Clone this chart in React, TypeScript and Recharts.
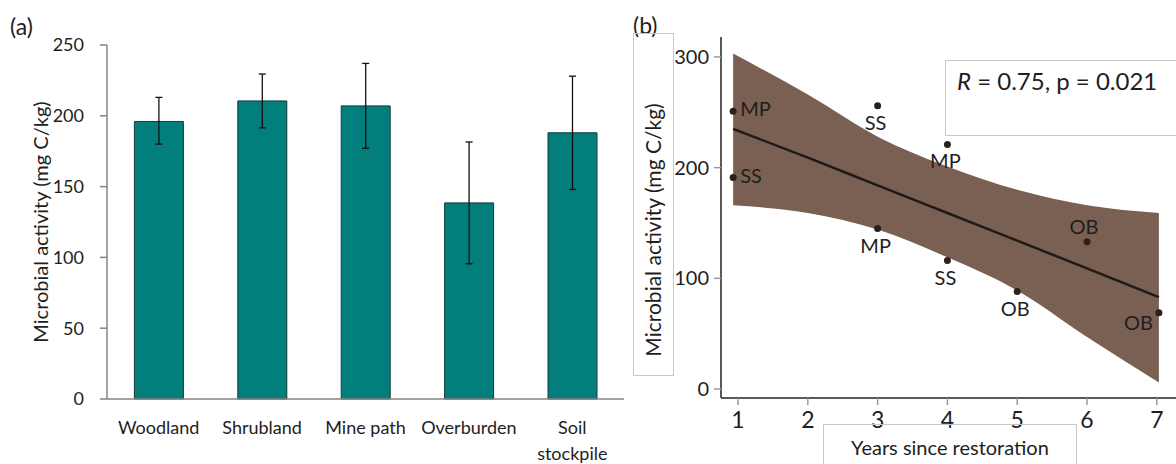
import React from 'react';
import { BarChart, Bar, XAxis, YAxis, ErrorBar, ComposedChart, Area, Line, Scatter } from 'recharts';

// ---------- Panel (a) data ----------
const categories = ['Woodland', 'Shrubland', 'Mine path', 'Overburden', 'Soil\nstockpile'];
const activity = [196, 210.5, 207, 138.5, 188];
const errMinus = [16, 19, 30, 43, 40];
const errPlus = [17, 19, 30, 43, 40];
const barTicks = [0, 50, 100, 150, 200, 250];

// ---------- Panel (b) data ----------
const pointYears = [0.93, 0.93, 3, 3, 4, 4, 5, 6, 7.03];
const pointValues = [251, 191, 256, 145, 221, 116, 88, 133, 69];
const pointLabels = ['MP', 'SS', 'SS', 'MP', 'MP', 'SS', 'OB', 'OB', 'OB'];
const labelPlacement = ['right', 'right', 'below', 'below', 'below', 'below', 'below', 'above', 'belowLeft'];

const fitYears = [0.93, 2, 3, 4, 5, 6, 7.03];
const fitValues = [235, 209, 184, 159, 134, 109, 83];
const ciLower = [166, 159, 144, 119, 89, 47, 6];
const ciUpper = [303, 266, 228, 201, 180, 166, 159];
const yearTicks = [1, 2, 3, 4, 5, 6, 7];
const activityTicks = [0, 100, 200, 300];

const barData = categories.map((name, i) => ({ name, value: activity[i], err: [errMinus[i], errPlus[i]] }));
const pointData = pointYears.map((x, i) => ({ x, y: pointValues[i], label: pointLabels[i], place: labelPlacement[i] }));
const fitData = fitYears.map((x, i) => ({ x, fit: fitValues[i], band: [ciLower[i], ciUpper[i]] }));

const FONT = "Lato, 'Open Sans', sans-serif";
const TEXT = '#1e1e1e';

const BarTick = (props: any) => {
  const { x, y, payload } = props;
  const lines = String(payload.value).split('\n');
  return (
    <text x={x} y={y} textAnchor="middle" fill={TEXT} fontSize={18} fontFamily={FONT}>
      {lines.map((l, i) => (
        <tspan key={i} x={x} dy={i === 0 ? 33 : 26}>{l}</tspan>
      ))}
    </text>
  );
};

const PointShape = (props: any) => {
  const { cx, cy, payload } = props;
  let tx = cx;
  let ty = cy;
  let anchor: any = 'middle';
  if (payload.place === 'right') { tx = cx + 7; ty = cy + 5; anchor = 'start'; }
  else if (payload.place === 'below') { tx = cx - 2; ty = cy + 24; }
  else if (payload.place === 'above') { tx = cx - 3; ty = cy - 8; }
  else if (payload.place === 'belowLeft') { tx = cx - 6; ty = cy + 17; anchor = 'end'; }
  return (
    <g>
      <circle cx={cx} cy={cy} r={3.5} fill="#2a211c" />
      <text x={tx} y={ty} textAnchor={anchor} fontSize={20} fill={TEXT} fontFamily={FONT}>{payload.label}</text>
    </g>
  );
};

export default function App() {
  return (
    <div style={{ position: 'absolute', left: 0, top: 0, width: 1176, height: 464, overflow: 'hidden', background: '#fff', fontFamily: FONT }}>
      <div style={{ position: 'absolute', left: 0, top: 0 }}>
        <BarChart width={625} height={464} data={barData} margin={{ top: 45, right: 1, bottom: 25, left: 47 }} barCategoryGap="26.5%">
          <XAxis dataKey="name" height={40} tickLine={false} tickSize={0} axisLine={{ stroke: '#858585', strokeWidth: 1.5 }} tick={<BarTick />} interval={0} />
          <YAxis width={60} domain={[0, 250]} ticks={barTicks} tickSize={7} tickMargin={16}
            axisLine={{ stroke: '#858585', strokeWidth: 1.5 }} tickLine={{ stroke: '#858585', strokeWidth: 1.5 }}
            tick={{ fill: TEXT, fontSize: 18, fontFamily: FONT }} />
          <Bar dataKey="value" fill="#027e7c" stroke="#173a3a" strokeWidth={1} isAnimationActive={false}>
            <ErrorBar dataKey="err" direction="y" width={3.5} stroke="#111" strokeWidth={1.3} isAnimationActive={false} />
          </Bar>
        </BarChart>
      </div>
      <div style={{ position: 'absolute', left: 625, top: 0 }}>
        <ComposedChart width={551} height={464} margin={{ top: 37, right: 0, bottom: 16, left: 36 }}>
          <XAxis dataKey="x" type="number" domain={[0.756, 7.275]} ticks={yearTicks} allowDataOverflow height={50}
            tickSize={7} tickMargin={7} axisLine={{ stroke: '#5a5a5a', strokeWidth: 2 }} tickLine={{ stroke: '#9a9a9a', strokeWidth: 1.5 }}
            tick={{ fill: TEXT, fontSize: 23, fontFamily: FONT }} />
          <YAxis type="number" domain={[-8.1, 318]} ticks={activityTicks} allowDataOverflow width={60}
            tickSize={7} tickMargin={5} axisLine={{ stroke: '#5a5a5a', strokeWidth: 2 }} tickLine={{ stroke: '#9a9a9a', strokeWidth: 1.5 }}
            tick={{ fill: TEXT, fontSize: 20, fontFamily: FONT }} />
          <Area data={fitData} dataKey="band" type="monotone" fill="#796053" fillOpacity={1} stroke="none" isAnimationActive={false} />
          <Line data={fitData} dataKey="fit" type="monotone" stroke="#1f1a17" strokeWidth={2.5} dot={false} isAnimationActive={false} />
          <Scatter data={pointData} dataKey="y" shape={<PointShape />} isAnimationActive={false} />
        </ComposedChart>
      </div>
      <svg width={1176} height={464} style={{ position: 'absolute', left: 0, top: 0, pointerEvents: 'none' }}>
        <text x={10} y={35} fontSize={23} fill={TEXT} fontFamily={FONT}>(a)</text>
        <text x={0} y={0} transform="translate(48,222) rotate(-90)" textAnchor="middle" fontSize={20} fill={TEXT} fontFamily={FONT}>Microbial activity (mg C/kg)</text>
        <text x={633} y={34} fontSize={23} fill={TEXT} fontFamily={FONT}>(b)</text>
        <rect x={633.5} y={33.5} width={40} height={342} fill="none" stroke="#c8c8c8" strokeWidth={1} />
        <text x={0} y={0} transform="translate(661,230) rotate(-90)" textAnchor="middle" fontSize={21} fill={TEXT} fontFamily={FONT}>Microbial activity (mg C/kg)</text>
        <rect x={823.5} y={424.5} width={253} height={60} fill="none" stroke="#c8c8c8" strokeWidth={1} />
        <text x={950} y={455} textAnchor="middle" fontSize={20} fill={TEXT} fontFamily={FONT}>Years since restoration</text>
        <rect x={945.5} y={60.5} width={260} height={75} fill="#fff" stroke="#c8c8c8" strokeWidth={1} />
        <text x={957} y={90} fontSize={24} fill={TEXT} fontFamily={FONT}><tspan fontStyle="italic">R</tspan> = 0.75, p = 0.021</text>
      </svg>
    </div>
  );
}
